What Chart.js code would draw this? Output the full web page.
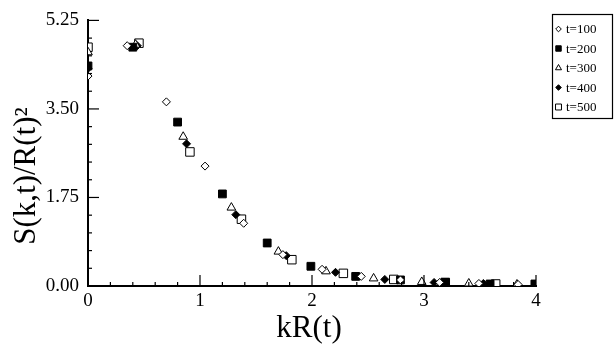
<!DOCTYPE html>
<html>
<head>
<meta charset="utf-8">
<script src="https://cdn.jsdelivr.net/npm/chart.js@4/dist/chart.umd.min.js"></script>
<style>
  html, body { margin: 0; padding: 0; background: #fff; }
  #wrap { width: 616px; height: 352px; position: relative; }
</style>
</head>
<body>
<div id="wrap"><canvas id="scatter"></canvas></div>
<script>
// series labels
var seriesLabels = ['t=100', 't=200', 't=300', 't=400', 't=500'];

// kR(t) values per series
var kr100 = [0, 0.35, 0.70, 1.045, 1.39, 1.74, 2.09, 2.44, 2.79, 3.14, 3.49, 3.84];
var kr200 = [0, 0.40, 0.80, 1.20, 1.60, 1.99, 2.39, 2.79, 3.19, 3.59, 3.99];
var kr300 = [0, 0.425, 0.85, 1.28, 1.70, 2.125, 2.55, 2.98, 3.40, 3.83];
var kr400 = [0, 0.44, 0.88, 1.32, 1.77, 2.21, 2.65, 3.09, 3.53];
var kr500 = [0, 0.455, 0.91, 1.37, 1.82, 2.28, 2.73, 3.19, 3.64];

// S(k,t)/R(t)^2 values per series
var s100 = [4.15, 4.75, 3.64, 2.37, 1.24, 0.62, 0.33, 0.19, 0.12, 0.07, 0.05, 0.03];
var s200 = [4.35, 4.72, 3.24, 1.82, 0.85, 0.39, 0.19, 0.12, 0.07, 0.04, 0.04];
var s300 = [4.62, 4.77, 2.95, 1.55, 0.68, 0.29, 0.15, 0.08, 0.05, 0.03];
var s400 = [4.30, 4.75, 2.81, 1.41, 0.60, 0.27, 0.13, 0.07, 0.05];
var s500 = [4.72, 4.80, 2.65, 1.32, 0.52, 0.25, 0.13, 0.07, 0.04];

// axis ticks
var xMajorTicks = [0, 1, 2, 3, 4];
var yMajorTicks = [0.00, 1.75, 3.50, 5.25];

var SERIF = '"Liberation Serif", "DejaVu Serif", serif';

function toPoints(xs, ys) {
    var pts = [];
    for (var i = 0; i < xs.length; i++) {
        pts.push({ x: xs[i], y: ys[i] });
    }
    return pts;
}

function isMajor(v, list) {
    for (var i = 0; i < list.length; i++) {
        if (Math.abs(v - list[i]) < 1e-6) return true;
    }
    return false;
}

var markers = [
    { style: 'rectRot', radius: 4, fill: '#fff' },
    { style: 'rect', radius: 5.5, fill: '#000' },
    { style: 'triangle', radius: 5, fill: '#fff' },
    { style: 'rectRot', radius: 4, fill: '#000' },
    { style: 'rect', radius: 6, fill: '#fff' }
];

var allX = [kr100, kr200, kr300, kr400, kr500];
var allY = [s100, s200, s300, s400, s500];

var datasets = [];
for (var i = 0; i < seriesLabels.length; i++) {
    datasets.push({
        label: seriesLabels[i],
        data: toPoints(allX[i], allY[i]),
        pointStyle: markers[i].style,
        pointRadius: markers[i].radius,
        pointBackgroundColor: markers[i].fill,
        pointBorderColor: '#000',
        pointBorderWidth: 1,
        showLine: false
    });
}

// inward tick marks, axis titles and boxed legend
var decorations = {
    id: 'decorations',
    afterDraw: function (chart) {
        var ctx = chart.ctx;
        var xs = chart.scales.x;
        var ys = chart.scales.y;
        var area = chart.chartArea;
        ctx.save();
        ctx.strokeStyle = '#000';
        ctx.lineWidth = 1.2;
        xs.ticks.forEach(function (t) {
            var px = xs.getPixelForValue(t.value);
            var len = isMajor(t.value, xMajorTicks) ? 11 : 4;
            ctx.beginPath();
            ctx.moveTo(px, area.bottom);
            ctx.lineTo(px, area.bottom - len);
            ctx.stroke();
        });
        ys.ticks.forEach(function (t) {
            var py = ys.getPixelForValue(t.value);
            var len = isMajor(t.value, yMajorTicks) ? 11 : 4;
            ctx.beginPath();
            ctx.moveTo(area.left, py);
            ctx.lineTo(area.left + len, py);
            ctx.stroke();
        });

        // axis titles
        ctx.fillStyle = '#000';
        ctx.font = '31px ' + SERIF;
        ctx.textAlign = 'center';
        ctx.textBaseline = 'middle';
        ctx.fillText('kR(t)', 309, 329);
        ctx.save();
        ctx.translate(27, 176);
        ctx.rotate(-Math.PI / 2);
        ctx.font = '31px ' + SERIF;
        ctx.fillText('S(k,t)/R(t)\u00B2', 0, 0);
        ctx.restore();

        // legend box
        ctx.lineWidth = 1.2;
        ctx.strokeRect(552.5, 14.5, 60, 104);
        ctx.font = '13px ' + SERIF;
        ctx.textAlign = 'left';
        chart.data.datasets.forEach(function (ds, k) {
            var cy = 29 + k * 19.5;
            ctx.fillStyle = ds.pointBackgroundColor;
            ctx.strokeStyle = '#000';
            ctx.lineWidth = 1;
            Chart.helpers.drawPoint(ctx, {
                pointStyle: ds.pointStyle,
                radius: ds.pointRadius * 0.7,
                rotation: 0,
                borderWidth: 1
            }, 558.5, cy);
            ctx.fillStyle = '#000';
            ctx.fillText(ds.label, 566, cy + 1);
        });
        ctx.restore();
    }
};

var scatterCtx = document.getElementById('scatter').getContext('2d');

new Chart(scatterCtx, {
    type: 'scatter',
    data: { datasets: datasets },
    options: {
        responsive: true,
        maintainAspectRatio: false,
        animation: { duration: 0 },
        layout: { padding: { top: 15, right: 80, left: 0, bottom: 0 } },
        plugins: {
            legend: { display: false },
            tooltip: { enabled: false }
        },
        scales: {
            x: {
                type: 'linear',
                min: 0,
                max: 4,
                afterFit: function (scale) { scale.height = 66; },
                grid: { display: false, drawTicks: false },
                border: { display: true, color: '#000', width: 2 },
                ticks: {
                    stepSize: 0.2,
                    autoSkip: false,
                    maxRotation: 0,
                    padding: 4,
                    color: '#000',
                    font: { family: SERIF, size: 19 },
                    callback: function (v) {
                        return isMajor(v, xMajorTicks) ? String(Math.round(v)) : '';
                    }
                }
            },
            y: {
                type: 'linear',
                min: 0,
                max: 5.25,
                afterFit: function (scale) { scale.width = 88; },
                grid: { display: false, drawTicks: false },
                border: { display: true, color: '#000', width: 2 },
                ticks: {
                    stepSize: 0.35,
                    autoSkip: false,
                    padding: 9,
                    color: '#000',
                    font: { family: SERIF, size: 19 },
                    callback: function (v) {
                        return isMajor(v, yMajorTicks) ? v.toFixed(2) : '';
                    }
                }
            }
        }
    },
    plugins: [decorations]
});
</script>
</body>
</html>
